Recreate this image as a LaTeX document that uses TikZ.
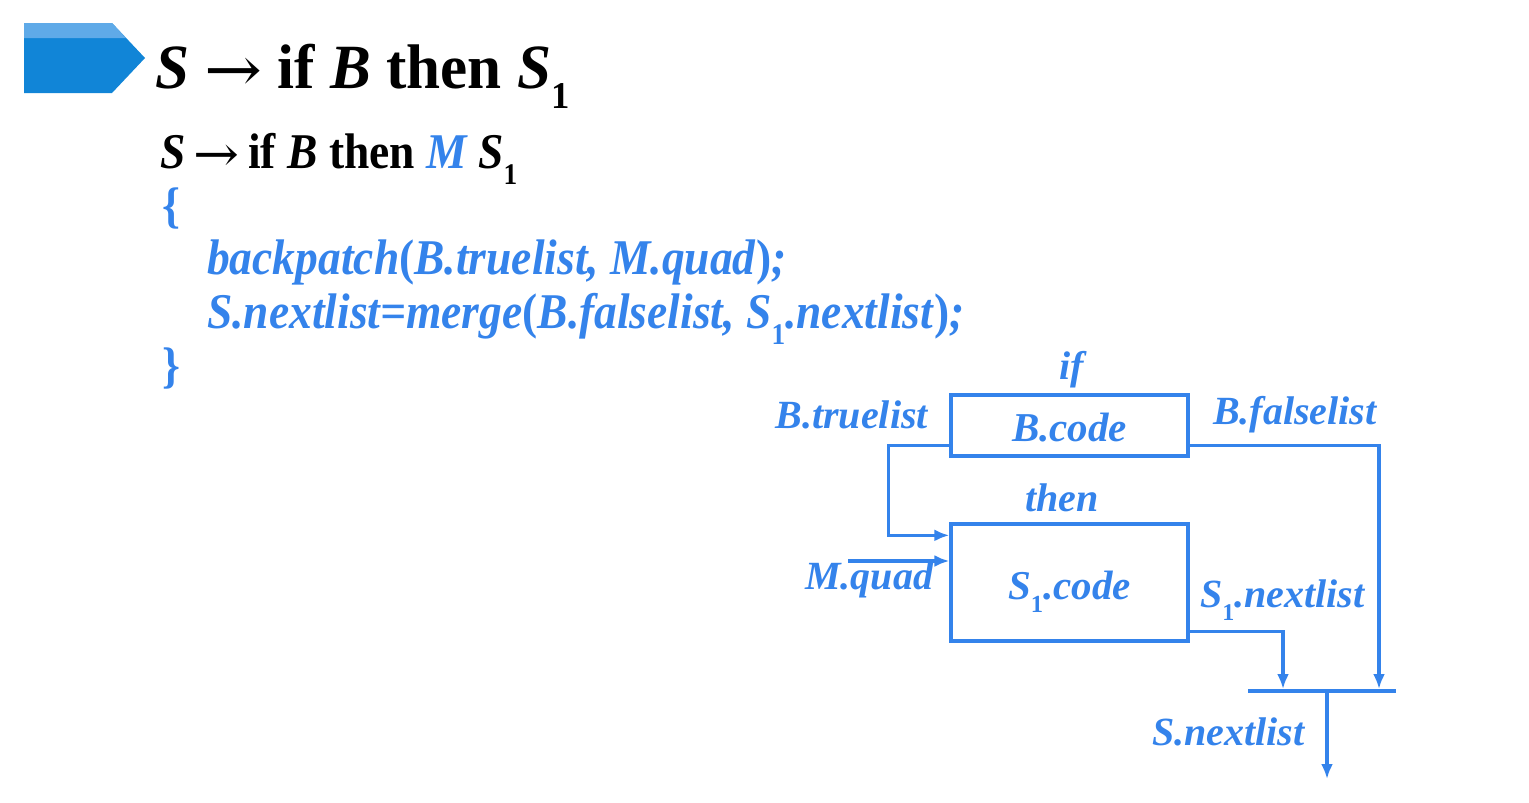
\documentclass[tikz,border=0pt]{standalone}
\usepackage{fontspec}
\usepackage{graphicx}
\setmainfont{Liberation Serif}
\newfontfamily\condA[FakeStretch=0.97]{Liberation Serif}
\newfontfamily\condB[FakeStretch=0.91]{Liberation Serif}
\newfontfamily\arrfont{DejaVu Serif}
\usetikzlibrary{arrows.meta,calc}
\definecolor{txtblue}{RGB}{52,131,235}
\definecolor{tagblue}{RGB}{17,133,215}
\definecolor{taglight}{RGB}{95,170,232}
\newcommand\lsub[1]{\raisebox{-0.32em}{\scalebox{0.6}{\textbf{\textup{#1}}}}}
\newcommand\rarr[1]{\raisebox{-0.06em}{\scalebox{#1}[1]{\arrfont\mdseries\upshape →}}}
\begin{document}
\begin{tikzpicture}[x=1pt,y=-1pt,
  txt/.style={anchor=base west,inner sep=0pt,text=txtblue},
  lab/.style={inner sep=0pt,text=txtblue,font=\fontsize{40}{44}\selectfont\bfseries\itshape},
  box/.style={draw=txtblue,line width=3.3pt,inner sep=0pt},
  boxtxt/.style={inner sep=0pt,text=txtblue,font=\fontsize{41}{46}\selectfont\bfseries\itshape},
  conn/.style={draw=txtblue,line width=3.3pt},
  arr/.style={conn,-{Latex[length=15pt,width=12pt]}}]
\useasboundingbox (0,0) rectangle (1529,803);
% tag shape
\fill[tagblue] (24,23) -- (112,23) -- (145,58) -- (112,93) -- (24,93) -- cycle;
\fill[taglight] (24,23) -- (112,23) -- (126,38) -- (24,38) -- cycle;
% title
\node[anchor=base west,inner sep=0pt] (title) at (155,88)
  {\fontsize{63}{70}\selectfont\condA\bfseries\itshape S \rarr{1.1} \textup{if} B \textup{then} S\lsub{1}};
% rule
\node[anchor=base west,inner sep=0pt] (rule) at (160,168)
  {\fontsize{50}{56}\selectfont\condB\bfseries\itshape S\,\rarr{1.1}\,\textup{if} B \textup{then} \textcolor{txtblue}{M} S\lsub{1}};
\node[txt] (lb) at (162,222) {\fontsize{50}{56}\selectfont\condB\bfseries \{};
\node[txt] (l1) at (207,274) {\fontsize{50}{56}\selectfont\condB\bfseries\itshape backpatch\textup{(}B.truelist, M.quad\textup{)};};
\node[txt] (l2) at (207,328) {\fontsize{50}{56}\selectfont\condB\bfseries\itshape S.nextlist=merge\textup{(}B.falselist, S\lsub{1}.nextlist\textup{)};};
\node[txt] (rb) at (162,382) {\fontsize{50}{56}\selectfont\condB\bfseries \}};
% boxes
\node[box,minimum width=237pt,minimum height=61pt] (bc) at (1069.5,425.5) {};
\node[box,minimum width=237pt,minimum height=117pt] (sc) at (1069.5,582.5) {};
\node[boxtxt] (bctext) at ([yshift=-2pt]bc.center) {B.code};
\node[boxtxt] (sctext) at ([yshift=-9pt]sc.center) {S\lsub{1}.code};
% labels
\node[lab] (lif) at (1072,370) {if};
\node[lab] (lthen) at (1062,498) {then};
\node[lab,anchor=east] (ltrue) at (928,415) {B.truelist};
\node[lab,anchor=west] (lfalse) at (1213,415) {B.falselist};
\node[lab,anchor=west] (lmq) at (805,580) {M.quad};
\node[lab,anchor=west] (lsn) at (1200,600) {S\lsub{1}.nextlist};
\node[lab,anchor=west] (lnext) at (1152,732) {S.nextlist};
% connectors
\coordinate (barL) at (1248,691);
\coordinate (barR) at (1396,691);
\coordinate (bS) at (1283,689);
\coordinate (bF) at (1379,689);
\coordinate (bO) at (1327,691);
\coordinate (outp) at (1327,779);
\coordinate (mq) at (848,561);
\draw[arr] ([yshift=12pt]bc.south west) -- ++(-61,0) |- ([yshift=-13pt]sc.north west);
\draw[arr] (mq) -- (sc.west |- mq);
\draw[arr] ([yshift=12pt]bc.south east) -| (bF);
\draw[arr] ([yshift=11pt]sc.south east) -| (bS);
\draw[conn,line width=4pt] (barL) -- (barR);
\draw[arr] (bO) -- (outp);
\end{tikzpicture}
\end{document}
